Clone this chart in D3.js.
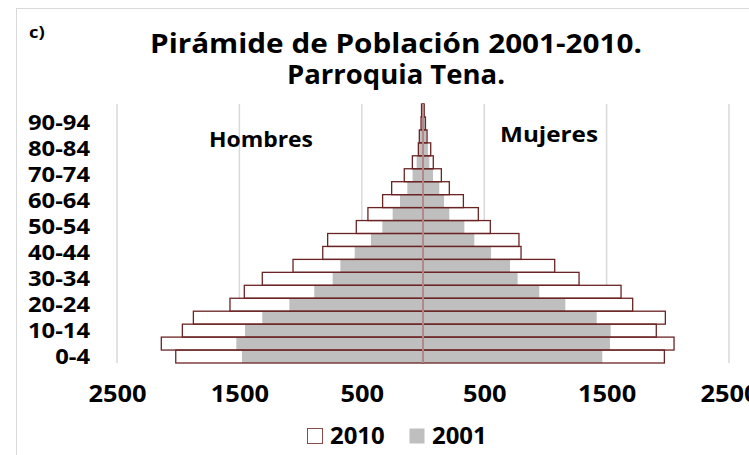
<!DOCTYPE html>
<html>
<head>
<meta charset="utf-8">
<script src="https://cdn.jsdelivr.net/npm/d3@7"></script>
<style>
  body { margin: 0; background: #fff; }
  text { font-family: "Open Sans", sans-serif; font-weight: 700; fill: #000; }
</style>
</head>
<body>
<div id="pyramid"></div>
<script>

/* PIRAMIDE DE POBLACION - TENA */

var ageGroups = ["0-4", "5-9", "10-14", "15-19", "20-24", "25-29", "30-34", "35-39", "40-44", "45-49",
                 "50-54", "55-59", "60-64", "65-69", "70-74", "75-79", "80-84", "85-89", "90-94", "95-99"];

var hombres2010 = [2020, 2138, 1966, 1876, 1577, 1460, 1313, 1062, 819, 779, 545, 450, 330, 256, 153, 87, 38, 30, 16, 12];
var hombres2001 = [1479, 1525, 1454, 1313, 1092, 888, 738, 675, 558, 425, 332, 248, 188, 128, 85, 52, 33, 24, 12, 8];
var mujeres2010 = [1972, 2051, 1906, 1980, 1713, 1618, 1275, 1076, 801, 784, 550, 452, 330, 215, 150, 84, 63, 33, 20, 10];
var mujeres2001 = [1465, 1528, 1533, 1419, 1163, 950, 773, 711, 556, 419, 338, 215, 172, 133, 82, 52, 40, 28, 18, 8];

var xTicks = [-2500, -1500, -500, 500, 1500, 2500];
var ageLabels = ["0-4", "10-14", "20-24", "30-34", "40-44", "50-54", "60-64", "70-74", "80-84", "90-94"];
var series = ["2010", "2001"];

var w = 749;
var h = 455;
var borde = "#6b2424";
var gris = "#bfbfbf";

// el grafico original esta estirado a lo ancho; se imita con textLength
function estirar(sel, k){
  sel.each(function(){
    var len = this.getComputedTextLength();
    d3.select(this)
      .attr("textLength", len * k)
      .attr("lengthAdjust", "spacingAndGlyphs");
  });
}

function drawPyramid(){

  var svg = d3.select("#pyramid").append("svg")
              .attr("width", w)
              .attr("height", h);

  svg.append("rect")
     .attr("x", 16.5)
     .attr("y", 8.5)
     .attr("width", 800)
     .attr("height", 500)
     .attr("fill", "none")
     .attr("stroke", "#d9d9d9");

  var x = d3.scaleLinear()
            .domain([-2500, 2500])
            .range([117, 729]);

  var y = d3.scaleBand()
            .domain(ageGroups)
            .range([363, 104])
            .padding(0);

  var rows = ageGroups.map(function(a, i){
    return {age: a, h10: hombres2010[i], h01: hombres2001[i], m10: mujeres2010[i], m01: mujeres2001[i]};
  });

  // lineas de division
  svg.append("g")
     .selectAll("line")
     .data(xTicks)
     .enter().append("line")
     .attr("x1", function(d){ return x(d); })
     .attr("x2", function(d){ return x(d); })
     .attr("y1", 104)
     .attr("y2", 363)
     .attr("stroke", "#d9d9d9")
     .attr("stroke-width", 1.5);

  var bars = svg.append("g");

  // 2010 fondo blanco
  bars.selectAll("rect.h10")
      .data(rows).enter().append("rect")
      .attr("x", function(d){ return x(-d.h10); })
      .attr("y", function(d){ return y(d.age); })
      .attr("width", function(d){ return x(0) - x(-d.h10); })
      .attr("height", y.bandwidth())
      .attr("fill", "#fff");

  bars.selectAll("rect.m10")
      .data(rows).enter().append("rect")
      .attr("x", x(0))
      .attr("y", function(d){ return y(d.age); })
      .attr("width", function(d){ return x(d.m10) - x(0); })
      .attr("height", y.bandwidth())
      .attr("fill", "#fff");

  // 2001 gris
  bars.selectAll("rect.h01")
      .data(rows).enter().append("rect")
      .attr("x", function(d){ return x(-d.h01); })
      .attr("y", function(d){ return y(d.age); })
      .attr("width", function(d){ return x(0) - x(-d.h01); })
      .attr("height", y.bandwidth())
      .attr("fill", gris);

  bars.selectAll("rect.m01")
      .data(rows).enter().append("rect")
      .attr("x", x(0))
      .attr("y", function(d){ return y(d.age); })
      .attr("width", function(d){ return x(d.m01) - x(0); })
      .attr("height", y.bandwidth())
      .attr("fill", gris);

  // borde de 2010 encima
  bars.selectAll("rect.h10b")
      .data(rows).enter().append("rect")
      .attr("x", function(d){ return x(-d.h10); })
      .attr("y", function(d){ return y(d.age); })
      .attr("width", function(d){ return x(0) - x(-d.h10); })
      .attr("height", y.bandwidth())
      .attr("fill", "none")
      .attr("stroke", borde)
      .attr("stroke-width", 1.3);

  bars.selectAll("rect.m10b")
      .data(rows).enter().append("rect")
      .attr("x", x(0))
      .attr("y", function(d){ return y(d.age); })
      .attr("width", function(d){ return x(d.m10) - x(0); })
      .attr("height", y.bandwidth())
      .attr("fill", "none")
      .attr("stroke", borde)
      .attr("stroke-width", 1.3);

  // eje central mas claro
  svg.append("line")
     .attr("x1", x(0))
     .attr("x2", x(0))
     .attr("y1", y.range()[1])
     .attr("y2", y.range()[0])
     .attr("stroke", "#c9a4a4")
     .attr("stroke-width", 1.5);

  // ejes
  var xAxis = d3.axisBottom(x)
                .tickValues(xTicks)
                .tickFormat(function(d){ return Math.abs(d); })
                .tickSize(0)
                .tickPadding(0);

  var gx = svg.append("g")
              .attr("transform", "translate(0,385)")
              .call(xAxis);
  gx.select(".domain").remove();
  gx.selectAll("text")
    .attr("dy", "0.71em")
    .style("font-size", "24px")
    .style("font-family", "'Open Sans', sans-serif")
    .style("font-weight", 700)
    .attr("fill", "#000")
    .call(estirar, 1.06);

  var yAxis = d3.axisLeft(y)
                .tickValues(ageLabels)
                .tickSize(0)
                .tickPadding(0);

  var gy = svg.append("g")
              .attr("transform", "translate(90,0)")
              .call(yAxis);
  gy.select(".domain").remove();
  gy.selectAll("text")
    .style("font-size", "22px")
    .style("font-family", "'Open Sans', sans-serif")
    .style("font-weight", 700)
    .attr("fill", "#000")
    .call(estirar, 1.08);

  // titulos
  svg.append("text")
     .attr("x", 29)
     .attr("y", 38)
     .style("font-size", "16px")
     .text("c)")
     .call(estirar, 1.15);

  svg.append("text")
     .attr("x", 396)
     .attr("y", 53)
     .attr("text-anchor", "middle")
     .style("font-size", "26px")
     .text("Pirámide de Población 2001-2010.")
     .attr("textLength", 492)
     .attr("lengthAdjust", "spacingAndGlyphs");

  svg.append("text")
     .attr("x", 396)
     .attr("y", 84)
     .attr("text-anchor", "middle")
     .style("font-size", "26px")
     .text("Parroquia Tena.")
     .attr("textLength", 218)
     .attr("lengthAdjust", "spacingAndGlyphs");

  svg.append("text")
     .attr("x", 261)
     .attr("y", 147)
     .attr("text-anchor", "middle")
     .style("font-size", "22px")
     .text("Hombres")
     .attr("textLength", 104)
     .attr("lengthAdjust", "spacingAndGlyphs");

  svg.append("text")
     .attr("x", 549)
     .attr("y", 142)
     .attr("text-anchor", "middle")
     .style("font-size", "22px")
     .text("Mujeres")
     .attr("textLength", 98)
     .attr("lengthAdjust", "spacingAndGlyphs");

  // leyenda
  var legend = svg.append("g")
                  .selectAll("g")
                  .data(series)
                  .enter().append("g")
                  .attr("transform", function(d, i){ return "translate(" + (307 + i * 102) + ",428)"; });

  legend.append("rect")
        .attr("x", 0.5)
        .attr("y", 0.5)
        .attr("width", 15)
        .attr("height", 15)
        .attr("fill", function(d, i){ return i == 0 ? "#fff" : gris; })
        .attr("stroke", function(d, i){ return i == 0 ? "#8a4a4a" : "none"; });

  legend.append("text")
        .attr("x", 23)
        .attr("y", 16)
        .style("font-size", "23px")
        .text(function(d){ return d; })
        .call(estirar, 1.04);

};

drawPyramid();

</script>
</body>
</html>
